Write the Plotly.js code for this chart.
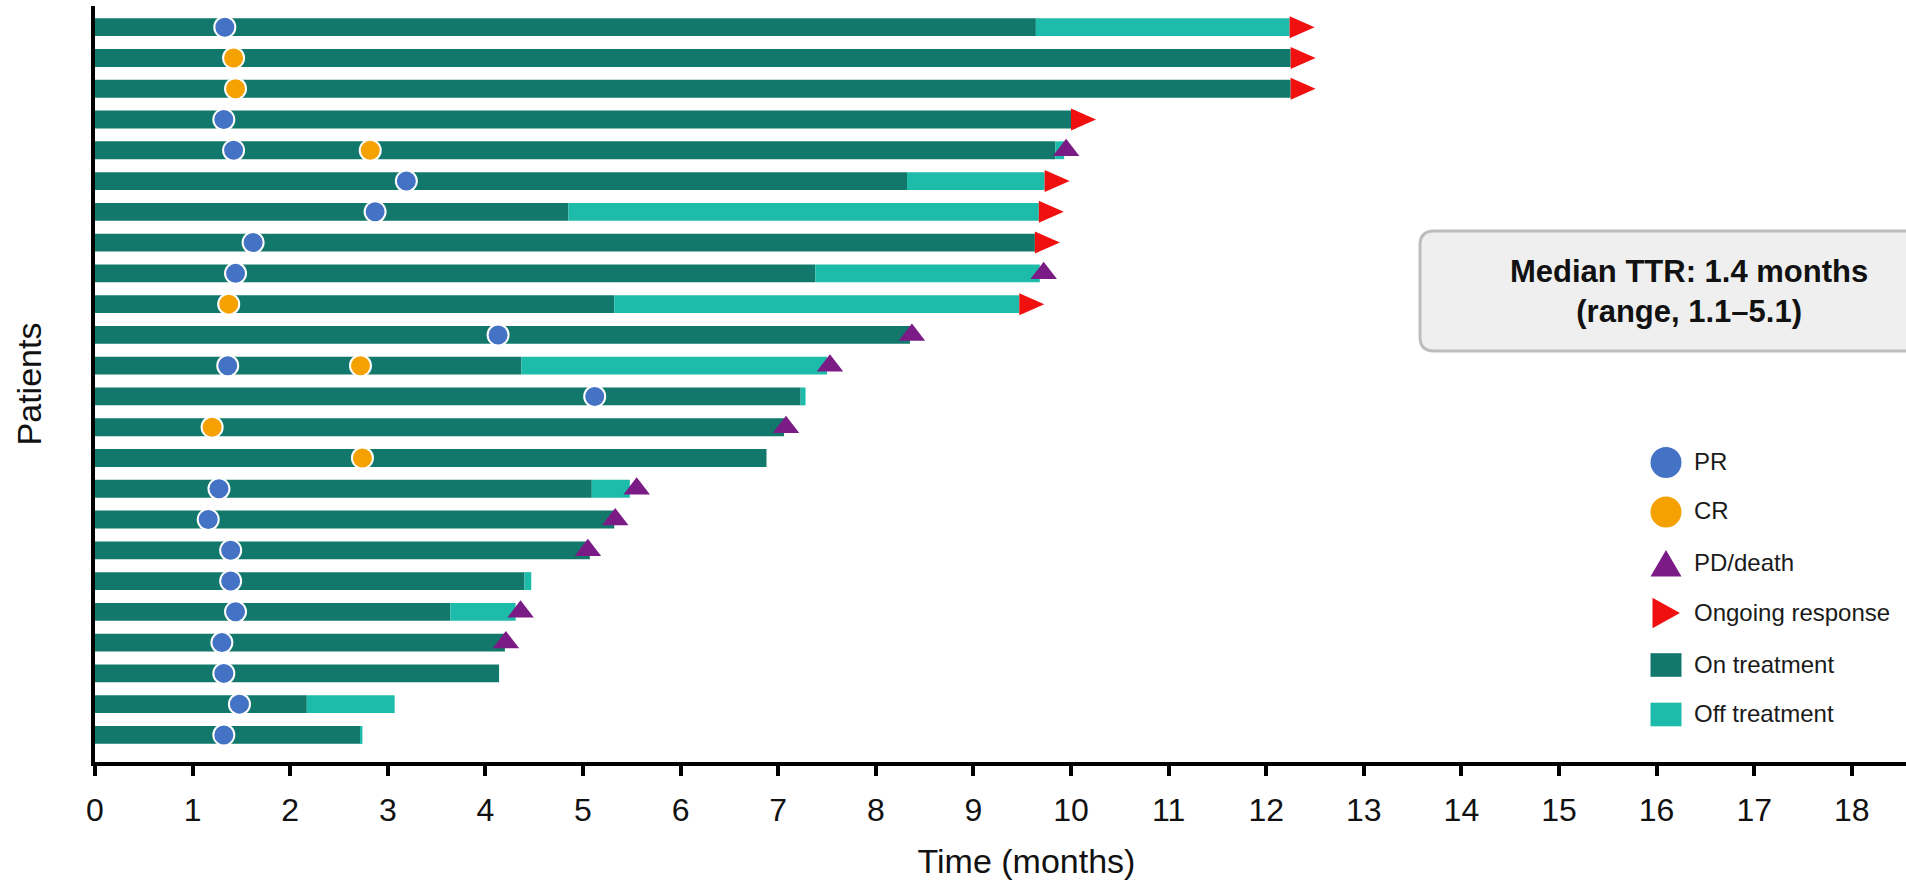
<!DOCTYPE html>
<html>
<head>
<meta charset="utf-8">
<script src="https://cdn.plot.ly/plotly-3.0.1.min.js"></script>
<style>
html,body{margin:0;padding:0;overflow:hidden;background:#ffffff;}
#chart{width:1958px;height:881px;}
</style>
</head>
<body>
<div id="chart"></div>
<script>
// ---------------- DATA ----------------
const patients = [1,2,3,4,5,6,7,8,9,10,11,12,13,14,15,16,17,18,19,20,21,22,23,24];
const onTreatmentEnd = [9.64,12.25,12.25,10.05,9.84,8.32,4.85,9.63,7.38,5.32,8.35,4.37,7.23,7.06,6.88,5.09,5.32,5.07,4.40,3.64,4.20,4.14,2.17,2.72];
const offTreatmentEnd = [12.24,null,null,null,9.93,9.73,9.67,null,9.68,9.47,null,7.50,7.28,null,null,5.48,null,null,4.47,4.31,null,null,3.07,2.74];
const prTime = [1.33,null,null,1.32,1.42,3.19,2.87,1.62,1.44,null,4.13,1.36,5.12,null,null,1.27,1.16,1.39,1.39,1.44,1.30,1.32,1.48,1.32];
const crTime = [null,1.42,1.44,null,2.82,null,null,null,null,1.37,null,2.72,null,1.20,2.74,null,null,null,null,null,null,null,null,null];
const pdTime = [null,null,null,null,9.95,null,null,null,9.72,null,8.37,7.53,null,7.08,null,5.55,5.33,5.05,null,4.36,4.21,null,null,null];
const ongoingTime = [12.24,12.25,12.25,10.0,null,9.73,9.67,9.63,null,9.47,null,null,null,null,null,null,null,null,null,null,null,null,null,null];
const xTickVals = [0,1,2,3,4,5,6,7,8,9,10,11,12,13,14,15,16,17,18];
const xTickText = ['0','1','2','3','4','5','6','7','8','9','10','11','12','13','14','15','16','17','18'];
const legendLabels = ['PR','CR','PD/death','Ongoing response','On treatment','Off treatment'];
const boxText = '<b>Median TTR: 1.4 months</b><br><b>(range, 1.1–5.1)</b>';

// ---------------- STYLE ----------------
const FONT = 'Liberation Sans, Arial, Helvetica, sans-serif';
const C_ON = '#11786b', C_OFF = '#1dbba9', C_PR = '#4472c4', C_CR = '#f5a102', C_PD = '#7b1b86', C_ARROW = '#f01010';

const W = 1958, H = 881, ML = 95, MR = 0, MT = 6, MB = 119;
const plotW = W - ML - MR, plotH = H - MT - MB;
const pxPerMonth = 97.6;
const px2x = px => (px - ML) / plotW;
const py2y = py => (H - MB - py) / plotH;

// ---------------- TRACES ----------------
const offLen = offTreatmentEnd.map((v,i) => v == null ? null : v - onTreatmentEnd[i]);

const traces = [
  {type:'bar', orientation:'h', name:'On treatment', y:patients, x:onTreatmentEnd, base:0,
   width:0.58, marker:{color:C_ON, line:{width:0}}, hoverinfo:'skip'},
  {type:'bar', orientation:'h', name:'Off treatment', y:patients, x:offLen, base:onTreatmentEnd,
   width:0.58, marker:{color:C_OFF, line:{width:0}}, hoverinfo:'skip'},
  {type:'scatter', mode:'markers', name:'PD/death', y:patients, x:pdTime,
   marker:{symbol:'triangle-up', size:23, color:C_PD, line:{width:0}}, hoverinfo:'skip'},
  {type:'scatter', mode:'markers', name:'PR', y:patients, x:prTime,
   marker:{symbol:'circle', size:21, color:C_PR, line:{width:2, color:'#ffffff'}}, hoverinfo:'skip'},
  {type:'scatter', mode:'markers', name:'CR', y:patients, x:crTime,
   marker:{symbol:'circle', size:21, color:C_CR, line:{width:2, color:'#ffffff'}}, hoverinfo:'skip'}
];

// ---------------- SHAPES ----------------
const shapes = [];
// ongoing response arrows, anchored at the data value, sized in pixels
ongoingTime.forEach((t,i) => {
  if (t == null) return;
  shapes.push({type:'path', xref:'x', yref:'y', xsizemode:'pixel', ysizemode:'pixel',
    xanchor:t, yanchor:patients[i], path:'M0,-11 L25,0 L0,11 Z',
    fillcolor:C_ARROW, line:{width:0}, layer:'above'});
});

// rounded box for median TTR
(function(){
  const x0 = px2x(1420), x1 = px2x(1945), y0 = py2y(351), y1 = py2y(231);
  const rx = 14 / plotW, ry = 14 / plotH;
  const p = `M${x0+rx},${y1} L${x1-rx},${y1} Q${x1},${y1} ${x1},${y1-ry} L${x1},${y0+ry} Q${x1},${y0} ${x1-rx},${y0} ` +
            `L${x0+rx},${y0} Q${x0},${y0} ${x0},${y0+ry} L${x0},${y1-ry} Q${x0},${y1} ${x0+rx},${y1} Z`;
  shapes.push({type:'path', xref:'paper', yref:'paper', path:p, fillcolor:'#efefef',
    line:{color:'#bdbdbd', width:3}, layer:'above'});
})();

// custom legend symbols
const legX = 1666;
const legY = [462.5, 512, 563, 613, 665, 714.5];
const legendSym = [
  {type:'circle', x0:-15.5, x1:15.5, y0:-15.5, y1:15.5, fillcolor:C_PR},
  {type:'circle', x0:-15.5, x1:15.5, y0:-15.5, y1:15.5, fillcolor:C_CR},
  {type:'path', path:'M-15.5,-13.5 L15.5,-13.5 L0,13 Z', fillcolor:C_PD},
  {type:'path', path:'M-13.5,-15.3 L14,0 L-13.5,15.3 Z', fillcolor:C_ARROW},
  {type:'rect', x0:-15.5, x1:15.5, y0:-11.8, y1:11.8, fillcolor:C_ON},
  {type:'rect', x0:-15.5, x1:15.5, y0:-11.8, y1:11.8, fillcolor:C_OFF}
];
legendSym.forEach((s,i) => {
  shapes.push(Object.assign({xref:'paper', yref:'paper', xsizemode:'pixel', ysizemode:'pixel',
    xanchor:px2x(legX), yanchor:py2y(legY[i]), line:{width:0}, layer:'above'}, s));
});

// ---------------- ANNOTATIONS ----------------
const annotations = [];
legendLabels.forEach((lab,i) => {
  annotations.push({xref:'paper', yref:'paper', x:px2x(1692), y:py2y(legY[i] - 1),
    xanchor:'left', yanchor:'middle', text:lab, showarrow:false,
    font:{family:FONT, size:24, color:'#1a1a1a'}});
});
annotations.push({xref:'paper', yref:'paper', x:px2x(1689), y:py2y(291), xanchor:'center', yanchor:'middle',
  text:boxText, showarrow:false, align:'center', font:{family:FONT, size:31, color:'#111111'}});

// ---------------- LAYOUT ----------------
const layout = {
  width:W, height:H,
  margin:{l:ML, r:MR, t:MT, b:MB, pad:0},
  paper_bgcolor:'#ffffff', plot_bgcolor:'#ffffff',
  showlegend:false, barmode:'overlay',
  font:{family:FONT, color:'#111111'},
  xaxis:{range:[0, plotW / pxPerMonth], tickvals:xTickVals, ticktext:xTickText,
    showline:true, linewidth:4, linecolor:'#000000', mirror:false,
    ticks:'outside', ticklen:10, tickwidth:4, tickcolor:'#000000',
    showgrid:false, zeroline:false, ticklabelstandoff:7,
    tickfont:{family:FONT, size:32, color:'#111111'},
    title:{text:'Time (months)', font:{family:FONT, size:34, color:'#111111'}, standoff:23},
    automargin:false, fixedrange:true},
  yaxis:{range:[24.88, 0.311], showline:true, linewidth:4, linecolor:'#000000',
    showticklabels:false, ticks:'', showgrid:false, zeroline:false,
    title:{text:'Patients', font:{family:FONT, size:34, color:'#111111'}, standoff:40},
    automargin:false, fixedrange:true},
  shapes:shapes, annotations:annotations
};

Plotly.newPlot('chart', traces, layout, {displayModeBar:false, responsive:false});
</script>
</body>
</html>
